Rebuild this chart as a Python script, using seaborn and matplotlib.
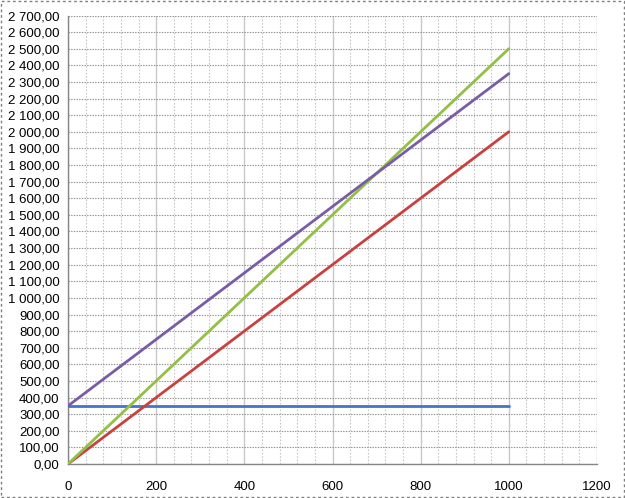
import matplotlib
matplotlib.use("Agg")
import matplotlib.pyplot as plt
import matplotlib.ticker as mticker
from matplotlib.patches import Rectangle
import seaborn as sns
import pandas as pd

# Data
volume = [0, 200, 400, 600, 800, 1000]
fixed_costs = [350, 350, 350, 350, 350, 350]
variable_costs = [0, 400, 800, 1200, 1600, 2000]
revenue = [0, 500, 1000, 1500, 2000, 2500]
total_costs = [350, 750, 1150, 1550, 1950, 2350]

series_names = ["Fixed", "Variable", "Revenue", "Total"]
series_colors = ["#4473C8", "#C8413F", "#92BF45", "#7A5CA6"]

sns.set_style("white")
plt.rcParams['font.family'] = ['Liberation Sans', 'DejaVu Sans']

df = pd.DataFrame({
    "x": volume * 4,
    "y": fixed_costs + variable_costs + revenue + total_costs,
    "s": sum([[n] * len(volume) for n in series_names], []),
})

fig = plt.figure(figsize=(6.25, 4.98), dpi=100)
ax = fig.add_axes([68/625, 1 - 464/498, (597-68)/625, (464-15.5)/498])

sns.lineplot(data=df, x="x", y="y", hue="s", palette=dict(zip(series_names, series_colors)),
             linewidth=2.0, ax=ax, legend=False, zorder=3)

ax.set_xlim(0, 1200)
ax.set_ylim(0, 2700)
ax.xaxis.set_major_locator(mticker.MultipleLocator(200))
ax.xaxis.set_minor_locator(mticker.MultipleLocator(40))
ax.yaxis.set_major_locator(mticker.MultipleLocator(100))

def yfmt(v, pos):
    s = f"{v:,.2f}"
    return s.replace(",", " ").replace(".", ",")
ax.yaxis.set_major_formatter(mticker.FuncFormatter(yfmt))

ax.grid(which="major", axis="x", color="#C8C8C8", linewidth=1.0, linestyle="-")
ax.grid(which="minor", axis="x", color="#C8C8C8", linewidth=0.8, linestyle=(0, (1.5, 1.5)))
ax.grid(which="major", axis="y", color="#8C8C8C", linewidth=0.8, linestyle=(0, (1.2, 1.2)))
ax.set_axisbelow(True)

for side in ["top", "right"]:
    ax.spines[side].set_visible(False)
for side in ["left", "bottom"]:
    ax.spines[side].set_color("#868686")
    ax.spines[side].set_linewidth(1.0)

ax.tick_params(axis="both", which="major", labelsize=9.5, colors="#868686", labelcolor="#000000",
               length=4, direction="out", width=0.8)
ax.tick_params(axis="x", which="minor", length=0)
ax.tick_params(axis="x", pad=8)
ax.tick_params(axis="y", pad=2)
ax.set_xlabel("")
ax.set_ylabel("")

fig.patches.append(Rectangle((1/625, 1/498), 623/625, 496/498, transform=fig.transFigure,
                             fill=False, edgecolor="#808080", linewidth=1.0,
                             linestyle=(0, (2, 2))))

fig.savefig("out.png", dpi=100)
